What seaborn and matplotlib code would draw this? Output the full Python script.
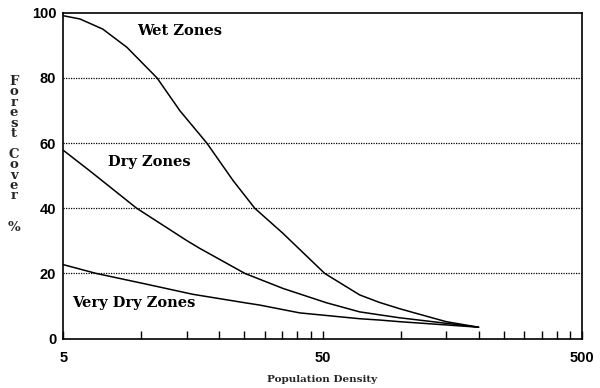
import matplotlib
matplotlib.use("Agg")
import matplotlib.pyplot as plt
import pandas as pd
import seaborn as sns
from matplotlib.ticker import FixedLocator, NullFormatter

# Werte (x logarithmisch)
wet_x = [5, 5.8, 7.1, 8.8, 11.5, 14.1, 17.9, 22.6, 27.4, 35.2, 51, 69.6, 83, 99, 112, 150, 200]
wet_y = [99.1, 98.1, 95.0, 89.4, 80, 69.9, 60, 48.5, 40, 32.3, 20, 13.4, 11.1, 9.2, 8.0, 5.2, 3.5]

dry_x = [5, 6.3, 6.9, 9.6, 14.9, 16.8, 25.1, 35.2, 51.8, 69.6, 83, 99, 112, 150, 200]
dry_y = [57.8, 51.6, 49.1, 40, 30.2, 27.7, 20, 15.4, 11, 8.2, 7.3, 6.4, 5.9, 4.7, 3.5]

vdry_x = [5, 6.7, 10.2, 15.8, 25.1, 28.6, 40.8, 69.6, 83, 99, 150, 200]
vdry_y = [22.7, 20, 16.9, 13.6, 11, 10.3, 7.9, 6.1, 5.7, 5.2, 4.2, 3.5]

zones = ["Wet Zones", "Dry Zones", "Very Dry Zones"]
x_major = [5, 50, 500]
x_minor = [10, 15, 20, 25, 30, 35, 40, 45, 100, 150, 200, 250, 300, 350, 400, 450]
y_ticks = [0, 20, 40, 60, 80, 100]
y_grid = [20, 40, 60, 80]

df = pd.concat([
    pd.DataFrame({"dens": wet_x, "cover": wet_y, "zone": zones[0]}),
    pd.DataFrame({"dens": dry_x, "cover": dry_y, "zone": zones[1]}),
    pd.DataFrame({"dens": vdry_x, "cover": vdry_y, "zone": zones[2]}),
])

sns.set_style("white")

fig = plt.figure(figsize=(6, 3.88), dpi=100)
ax = fig.add_axes([0.1055, 0.1273, 0.864, 0.8397])

sns.lineplot(data=df, x="dens", y="cover", hue="zone", palette=["black"] * 3,
             linewidth=1.1, legend=False, ax=ax, sort=True)

ax.set_xscale("log")
ax.set_xlim(5, 500)
ax.set_ylim(0, 100)

# Gitterlinien gepunktet
for g in y_grid:
    ax.axhline(g, color="black", linewidth=0.9, linestyle=(0, (1, 1)), zorder=0)

ax.xaxis.set_major_locator(FixedLocator(x_major))
ax.xaxis.set_minor_locator(FixedLocator(x_minor))
ax.xaxis.set_minor_formatter(NullFormatter())
ax.set_xticklabels([str(v) for v in x_major])
ax.set_yticks(y_ticks)
ax.set_yticklabels([str(v) for v in y_ticks])

ax.tick_params(axis="x", which="both", direction="in", length=6, width=1.0,
               color="black", pad=9, bottom=True)
ax.tick_params(axis="y", length=0, pad=5)
for lab in ax.get_xticklabels() + ax.get_yticklabels():
    lab.set_fontfamily("Liberation Sans")
    lab.set_fontweight("bold")
    lab.set_fontsize(10.5)
    lab.set_color("black")

for sp in ax.spines.values():
    sp.set_visible(True)
    sp.set_color("black")
    sp.set_linewidth(1.2)

ax.set_xlabel("")
ax.set_ylabel("")

# Beschriftungen der Kurven
txt = dict(family="DejaVu Serif", fontweight="bold", fontsize=10.5,
           color="black", va="baseline", ha="left", transform=ax.transAxes)
ax.text(0.1416, 0.9316, zones[0], **txt)
ax.text(0.0868, 0.5296, zones[1], **txt)
ax.text(0.0162, 0.0979, zones[2], **txt)

fig.text(322.5 / 600, 1 - 380 / 388, "Population Density", family="DejaVu Serif",
         fontweight="bold", fontsize=7.5, ha="center", va="center")

# senkrechte Achsenbeschriftung, ein Buchstabe pro Zeile
label = "\n".join("Forest Cover") + "\n\n\n%"
fig.text(14 / 600, 1 - 75 / 388, label, family="DejaVu Serif",
         fontweight="bold", fontsize=9.5, ha="center", va="top",
         multialignment="center", linespacing=0.74)

fig.savefig("out.png", dpi=100)
